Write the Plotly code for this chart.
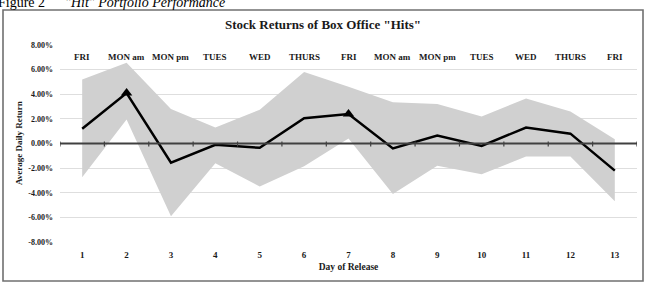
import plotly.graph_objects as go

# ---- data (percent) ----
days = list(range(1, 14))
weekday_labels = ["FRI", "MON am", "MON pm", "TUES", "WED", "THURS", "FRI",
                  "MON am", "MON pm", "TUES", "WED", "THURS", "FRI"]
avg_return = [1.2, 4.1, -1.55, -0.1, -0.35, 2.05, 2.4, -0.4, 0.65, -0.2, 1.3, 0.8, -2.2]
upper_band = [5.2, 6.55, 2.8, 1.3, 2.75, 5.8, 4.6, 3.35, 3.2, 2.2, 3.65, 2.6, 0.35]
lower_band = [-2.75, 1.95, -5.9, -1.6, -3.5, -1.85, 0.4, -4.1, -1.8, -2.5, -1.05, -1.05, -4.7]
significant_days = [2, 7]
y_ticks = [-8, -6, -4, -2, 0, 2, 4, 6, 8]

W, H = 648, 284
L, R, T, B = 60, 11, 45, 42
pw, ph = W - L - R, H - T - B
SERIF = "Liberation Serif, Times New Roman, serif"

def px_to_paper_x(px):
    return (px - L) / pw

def px_to_paper_y(py):
    return (H - B - py) / ph

fig = go.Figure()

# band
fig.add_trace(go.Scatter(x=days, y=lower_band, mode="lines", line=dict(width=0),
                         hoverinfo="skip", showlegend=False))
fig.add_trace(go.Scatter(x=days, y=upper_band, mode="lines", line=dict(width=0),
                         fill="tonexty", fillcolor="#d0d0d0",
                         hoverinfo="skip", showlegend=False))

# zero line
fig.add_shape(type="line", x0=0.5, x1=len(days) + 0.5, y0=0, y1=0,
              line=dict(color="#404040", width=2), layer="above")
for i in range(len(days) + 1):
    xb = 0.5 + i
    fig.add_shape(type="line", x0=xb, x1=xb, ysizemode="pixel", yanchor=0,
                  y0=-3, y1=2, line=dict(color="#404040", width=1.2), layer="above")

# average line
fig.add_trace(go.Scatter(x=days, y=avg_return, mode="lines",
                         line=dict(color="black", width=2.5), showlegend=False))
sig_idx = [days.index(d) for d in significant_days]
fig.add_trace(go.Scatter(x=[days[i] for i in sig_idx], y=[avg_return[i] for i in sig_idx],
                         mode="markers",
                         marker=dict(symbol="triangle-up", size=10, color="black"),
                         showlegend=False))

# weekday labels
for d, lab in zip(days, weekday_labels):
    fig.add_annotation(x=d, y=7.05, text=f"<b>{lab}</b>", showarrow=False,
                       font=dict(family=SERIF, size=9, color="#1a1a1a"))

# frame
fig.add_shape(type="rect", xref="paper", yref="paper",
              x0=px_to_paper_x(3), x1=px_to_paper_x(643),
              y0=px_to_paper_y(281), y1=px_to_paper_y(10),
              line=dict(color="#707070", width=1.6), layer="above")

# figure caption (cut off at top, as in the source)
fig.add_annotation(xref="paper", yref="paper", x=px_to_paper_x(-3), y=px_to_paper_y(11),
                   xanchor="left", yanchor="bottom", text="Figure 2", showarrow=False,
                   borderpad=0, font=dict(family=SERIF, size=14, color="black"))
fig.add_annotation(xref="paper", yref="paper", x=px_to_paper_x(64), y=px_to_paper_y(11),
                   xanchor="left", yanchor="bottom", text="<i>\"Hit\" Portfolio Performance</i>",
                   showarrow=False, borderpad=0,
                   font=dict(family=SERIF, size=14, color="black"))

# title
fig.add_annotation(xref="paper", yref="paper", x=px_to_paper_x(323), y=px_to_paper_y(25),
                   xanchor="center", yanchor="middle",
                   text="<b>Stock Returns of Box Office \"Hits\"</b>", showarrow=False,
                   font=dict(family=SERIF, size=13, color="#1a1a1a"))

# y axis title
fig.add_annotation(xref="paper", yref="paper", x=px_to_paper_x(19), y=px_to_paper_y(143),
                   xanchor="center", yanchor="middle",
                   text="<b>Average Daily Return</b>", showarrow=False, textangle=-90,
                   font=dict(family=SERIF, size=9, color="#1a1a1a"))

fig.update_layout(
    width=W, height=H,
    margin=dict(l=L, r=R, t=T, b=B, pad=0),
    paper_bgcolor="white", plot_bgcolor="white",
    showlegend=False,
    xaxis=dict(range=[0.5, len(days) + 0.5], tickvals=days,
               ticktext=[f"<b>{d}</b>" for d in days],
               showgrid=False, zeroline=False, showline=False, ticks="",
               ticklabelstandoff=6,
               tickfont=dict(family=SERIF, size=9, color="#1a1a1a"),
               title=dict(text="<b>Day of Release</b>", standoff=4,
                          font=dict(family=SERIF, size=9.5, color="#1a1a1a"))),
    yaxis=dict(range=[-8, 8], tickvals=y_ticks,
               ticktext=[f"<b>{v:.2f}%</b>" for v in y_ticks],
               showgrid=True, gridcolor="#dedede", gridwidth=1,
               zeroline=False, showline=False, ticks="", ticklabelstandoff=6,
               tickfont=dict(family=SERIF, size=8, color="#1a1a1a")),
)

fig.write_html("out.html")
